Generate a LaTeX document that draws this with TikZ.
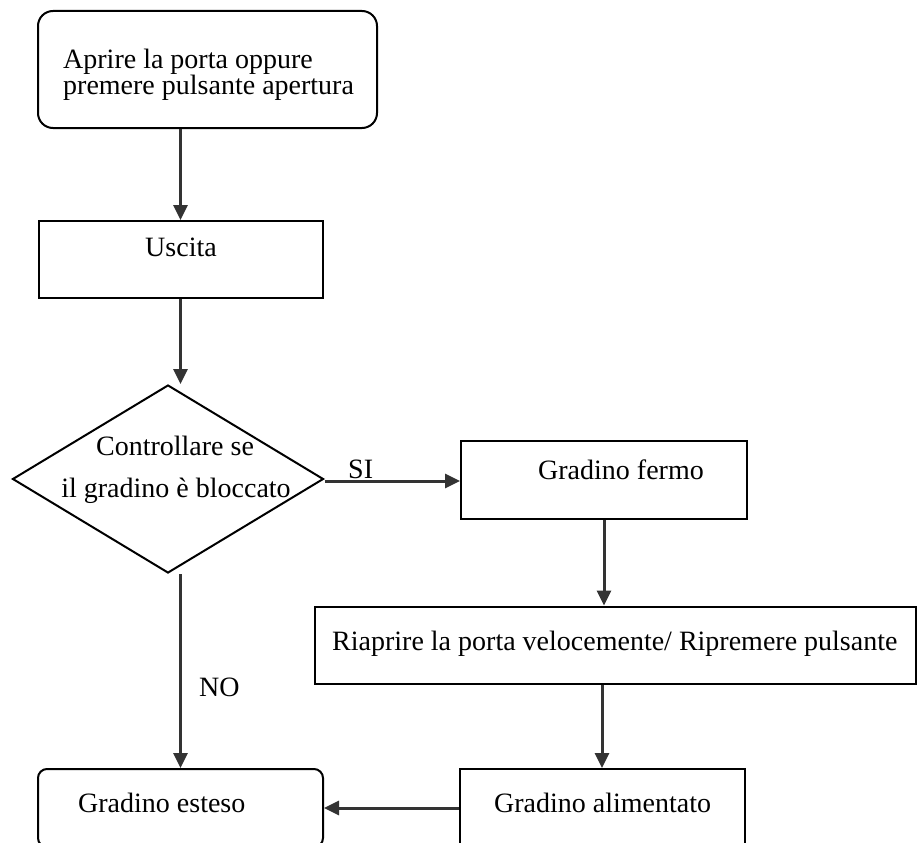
\documentclass[tikz,border=0pt]{standalone}
\usepackage{fontspec}
\setmainfont{Liberation Serif}
\usetikzlibrary{shapes.geometric,arrows.meta}

\tikzset{
  box/.style={draw=black, line width=2pt, inner sep=0pt, rectangle},
  roundbox/.style={box, rounded corners=#1},
  decision/.style={draw=black, line width=2pt, inner sep=0pt, diamond},
  label/.style={inner sep=0pt, font=\fontsize{28pt}{25pt}\selectfont},
  flow/.style={draw=black!80, line width=3pt,
    -{Triangle[length=15pt,width=14pt]}},
}

\begin{document}
\begin{tikzpicture}[x=1pt, y=-1pt]
  \useasboundingbox (0,0) rectangle (918,843);
  \clip (0,0) rectangle (918,843);

  % boxes
  \node[roundbox=15pt, minimum width=339pt, minimum height=117pt] (start) at (207.5,69.5) {};
  \node[box, minimum width=284pt, minimum height=77pt] (uscita) at (180.5,259.5) {};
  \node[decision, minimum width=311pt, minimum height=188pt] (check) at (168,479) {};
  \node[box, minimum width=286pt, minimum height=78pt] (fermo) at (604,480) {};
  \node[box, minimum width=601pt, minimum height=77pt] (riapri) at (615.5,645) {};
  \node[roundbox=9pt, minimum width=285pt, minimum height=78pt] (esteso) at (180.5,808) {};
  \node[box, minimum width=285pt, minimum height=78pt] (alim) at (602,808) {};

  % texts
  \node[label, anchor=west, align=left] (t1) at (63,75) {Aprire la porta oppure\\premere pulsante apertura};
  \node[label, anchor=base] (t2) at (181,256) {Uscita};
  \node[label, anchor=base] (t3a) at (175,455) {Controllare se};
  \node[label, anchor=base] (t3b) at (176,497) {il gradino è bloccato};
  \node[label, anchor=base] (t4) at (621,479) {Gradino fermo};
  \node[label, anchor=base west] (t5) at (332,650) {Riaprire la porta velocemente/ Ripremere pulsante};
  \node[label, anchor=base west] (t6) at (78,812) {Gradino esteso};
  \node[label, anchor=base west] (t7) at (494,812) {Gradino alimentato};
  \node[label, anchor=base west] (si) at (348,478) {SI};
  \node[label, anchor=base west] (no) at (199,696) {NO};

  % connectors
  \draw[flow] (uscita.north |- start.south) -- (uscita.north);
  \draw[flow] (uscita.south) -- (uscita.south |- check.north);
  \draw[flow] (check.east) ++(0,2) coordinate (siA) -- (siA -| fermo.west);
  \draw[flow] (esteso.north |- check.south) -- (esteso.north);
  \draw[flow] (fermo.south) -- (fermo.south |- riapri.north);
  \draw[flow] (alim.north |- riapri.south) -- (alim.north);
  \draw[flow] (alim.west) -- (esteso.east);
\end{tikzpicture}
\end{document}
